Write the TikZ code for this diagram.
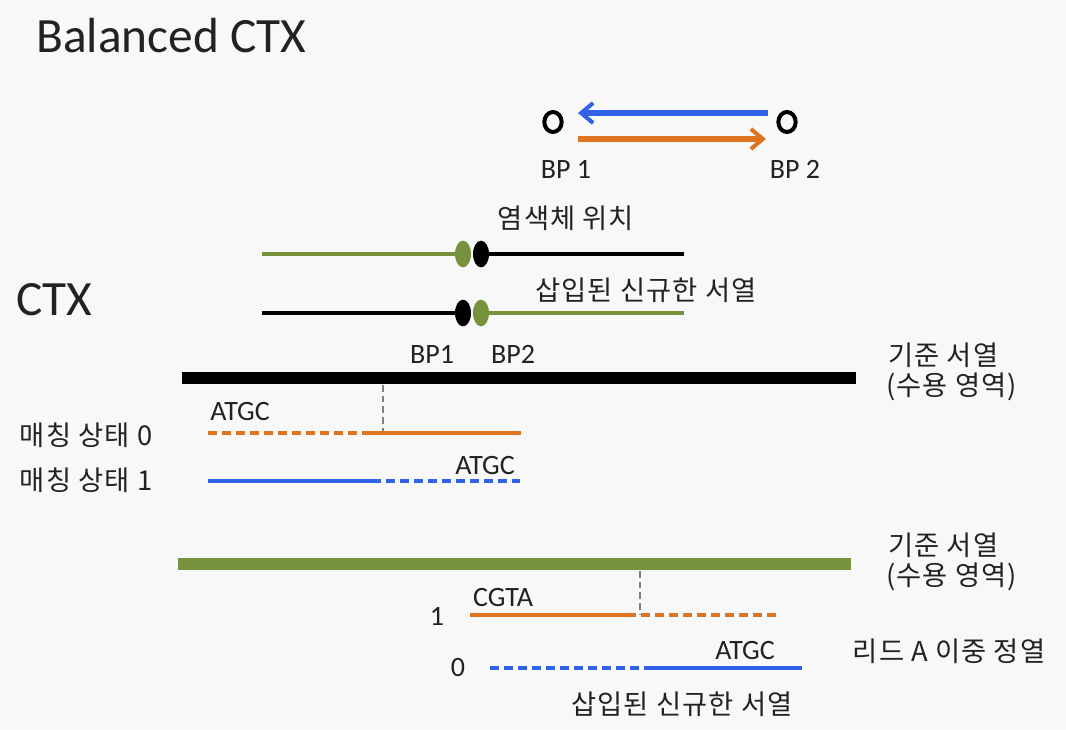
\documentclass[tikz,border=0pt]{standalone}
\usepackage{fontspec}
\setmainfont{Carlito}
\newfontfamily\kr[LetterSpace=4]{Noto Sans CJK KR}
\usetikzlibrary{arrows.meta,shapes.geometric}
\definecolor{bg}{HTML}{F8F8F8}
\definecolor{ored}{HTML}{DC7421}
\definecolor{bblue}{HTML}{2F62E6}
\definecolor{grn}{HTML}{76923C}
\definecolor{txt}{HTML}{222222}
\tikzset{
  lbl/.style={font=\fontsize{21}{24}\selectfont, text=txt, inner sep=0pt},
  krl/.style={font=\kr\fontsize{20.5}{24}\selectfont, text=txt, inner sep=0pt},
  big/.style={font=\fontsize{37}{40}\selectfont, text=txt, inner sep=0pt},
  chrom/.style={line width=3.6pt},
  bar/.style={line width=9pt},
  rd/.style={line width=3.6pt},
  dsh/.style={dash pattern=on 7pt off 3.5pt},
  guide/.style={gray, line width=1pt, dash pattern=on 5pt off 3pt},
  bp/.style={ellipse, draw=black, line width=3pt, minimum width=13pt, minimum height=15pt, inner sep=0pt},
  ell/.style={ellipse, minimum width=12pt, minimum height=20pt, inner sep=0pt},
  arr/.style={line width=4pt, -{Straight Barb[length=9pt,width=15pt,line width=3pt]}},
}
\begin{document}
\begin{tikzpicture}[x=0.75pt,y=-0.75pt]
\fill[bg] (0,0) rectangle (1066,729);
\useasboundingbox (0,0) rectangle (1066,729);

\node[big, anchor=west] (title) at (36,36) {Balanced CTX};
\node[big, anchor=west] (ctx) at (16,300) {CTX};

% breakpoints
\node[bp] (b1) at (553,122) {};
\node[bp] (b2) at (787,122) {};
\coordinate (bs) at (768,113);
\coordinate (be) at (578,113);
\coordinate (os) at (578,139);
\coordinate (oe) at (766,139);
\draw[arr, bblue] (bs) -- (be);
\draw[arr, ored] (os) -- (oe);
\node[lbl] (lb1) at (566,169) {BP 1};
\node[lbl] (lb2) at (795,169) {BP 2};

% chromosomes
\node[krl] (pos) at (566,218) {염색체 위치};
\coordinate (c1a) at (262,254);
\coordinate (c1b) at (684,254);
\draw[chrom, grn] (c1a) -- (463,254);
\draw[chrom, black] (481,254) -- (c1b);
\node[ell, fill=grn] (e1g) at (463,254) {};
\node[ell, fill=black] (e1k) at (481,254) {};

\node[krl] (ins1) at (646,290) {삽입된 신규한 서열};
\coordinate (c2a) at (262,313);
\coordinate (c2b) at (684,313);
\draw[chrom, black] (c2a) -- (463,313);
\draw[chrom, grn] (481,313) -- (c2b);
\node[ell, fill=black] (e2k) at (463,313) {};
\node[ell, fill=grn] (e2g) at (481,313) {};
\node[lbl] (lbp1) at (432,354) {BP1};
\node[lbl] (lbp2) at (513,354) {BP2};

% reference 1
\coordinate (r1a) at (182,378);
\coordinate (r1b) at (856,378);
\draw[bar, black] (r1a) -- (r1b);
\node[krl, anchor=west] (ref1a) at (888,355) {기준 서열};
\node[krl, anchor=west] (ref1b) at (886,387) {(수용 영역)};
\coordinate (g1a) at (383,385);
\coordinate (g1b) at (383,432);
\draw[guide] (g1a) -- (g1b);

\node[lbl] (atgc1) at (240,411) {ATGC};
\node[krl] (m0) at (86,435) {매칭 상태 0};
\coordinate (o1a) at (208,433);
\coordinate (o1m) at (368,433);
\coordinate (o1b) at (521,433);
\draw[rd, ored, dsh] (o1a) -- (o1m);
\draw[rd, ored] (o1m) -- (o1b);

\node[lbl] (atgc2) at (485,465) {ATGC};
\node[krl] (m1) at (86,480) {매칭 상태 1};
\coordinate (u1a) at (208,481);
\coordinate (u1m) at (372,481);
\coordinate (u1b) at (520,481);
\draw[rd, bblue] (u1a) -- (u1m);
\draw[rd, bblue, dsh] (u1m) -- (u1b);

% reference 2
\coordinate (r2a) at (178,564);
\coordinate (r2b) at (851,564);
\draw[bar, grn] (r2a) -- (r2b);
\node[krl, anchor=west] (ref2a) at (888,545) {기준 서열};
\node[krl, anchor=west] (ref2b) at (886,577) {(수용 영역)};
\coordinate (g2a) at (640,571);
\coordinate (g2b) at (640,615);
\draw[guide] (g2a) -- (g2b);

\node[lbl] (cgta) at (503,597) {CGTA};
\node[lbl] (n1) at (437,616) {1};
\coordinate (o2a) at (470,615);
\coordinate (o2m) at (627,615);
\coordinate (o2b) at (780,615);
\draw[rd, ored] (o2a) -- (o2m);
\draw[rd, ored, dsh] (o2m) -- (o2b);

\node[krl] (reada) at (949,651) {리드 A 이중 정열};
\node[lbl] (atgc3) at (745,650) {ATGC};
\node[lbl] (n0) at (458,667) {0};
\coordinate (u2a) at (490,668);
\coordinate (u2m) at (648,668);
\coordinate (u2b) at (802,668);
\draw[rd, bblue, dsh] (u2a) -- (u2m);
\draw[rd, bblue] (u2m) -- (u2b);
\node[krl] (ins2) at (682,704) {삽입된 신규한 서열};
\end{tikzpicture}
\end{document}
